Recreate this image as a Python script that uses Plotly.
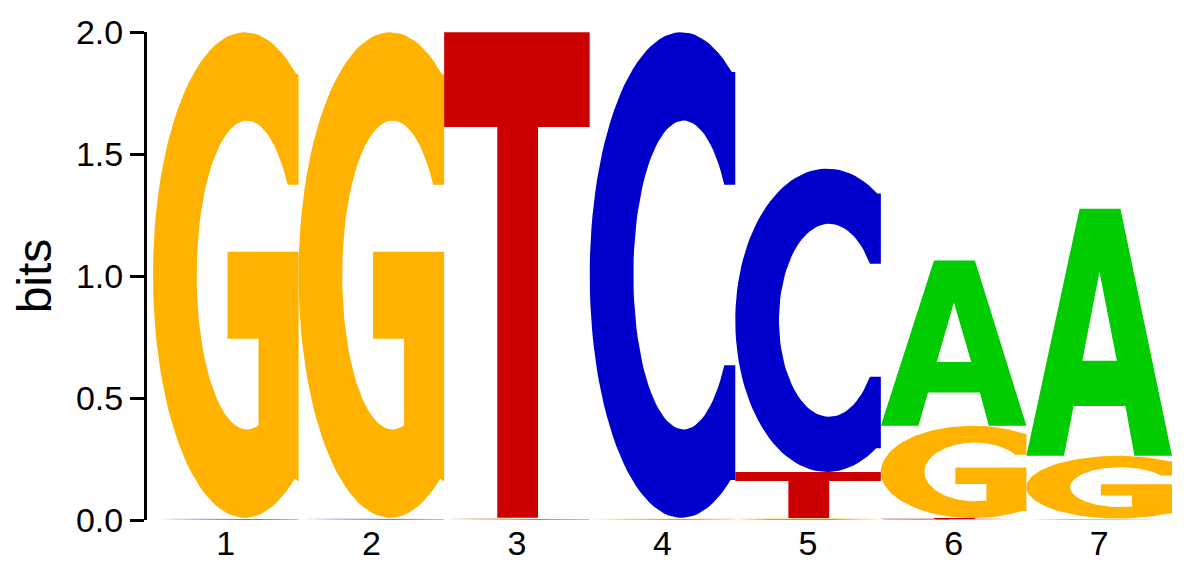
import numpy as np
import plotly.graph_objects as go

# ---- data (information content in bits per position) ----
positions = [1, 2, 3, 4, 5, 6, 7]
tick_labels = ["1", "2", "3", "4", "5", "6", "7"]
bits_A = [0.003, 0.003, 0.003, 0.003, 0.004, 0.678, 1.013]
bits_C = [0.003, 0.003, 0.003, 1.990, 1.243, 0.004, 0.003]
bits_G = [1.990, 1.990, 0.003, 0.003, 0.004, 0.378, 0.257]
bits_T = [0.003, 0.003, 1.990, 0.003, 0.189, 0.004, 0.003]

colors = {"A": "#00CC00", "C": "#0000CC", "G": "#FFB300", "T": "#CC0000"}

# ---- glyph outlines in a unit box (style, not data) ----
def arc(cx, cy, rx, ry, a0, a1, n=80):
    t = np.radians(np.linspace(a0, a1, n))
    return list(zip(cx + rx * np.cos(t), cy + ry * np.sin(t)))

OCX, ORX = 0.63, 0.63
ICX, IRX, IRY = 0.645, 0.345, 0.318

def glyph_C():
    pts = arc(OCX, 0.5, ORX, 0.5, 56.7, 302.4)
    pts += [(1.0, 0.078), (1.0, 0.314)]
    pts += arc(ICX, 0.5, IRX, IRY, 324.2, 35.8)
    pts += [(1.0, 0.686), (1.0, 0.918)]
    return [pts]

def glyph_G():
    pts = arc(OCX, 0.5, ORX, 0.5, 56.2, 302.9)
    pts += [(1.0, 0.075), (1.0, 0.548), (0.512, 0.548), (0.512, 0.369),
            (0.725, 0.369), (0.725, 0.19)]
    pts += arc(ICX, 0.5, IRX, IRY, 283.4, 35.8)
    pts += [(1.0, 0.686), (1.0, 0.912)]
    return [pts]

def glyph_T():
    return [[(0, 1), (1, 1), (1, 0.805), (0.645, 0.805), (0.645, 0),
             (0.365, 0), (0.365, 0.805), (0, 0.805)]]

def glyph_A():
    outer = [(0, 0), (0.365, 1), (0.646, 1), (1, 0), (0.742, 0),
             (0.68, 0.202), (0.324, 0.202), (0.258, 0)]
    hole = [(0.384, 0.385), (0.621, 0.385), (0.502, 0.745)]
    return [outer, hole]

glyphs = {"A": glyph_A(), "C": glyph_C(), "G": glyph_G(), "T": glyph_T()}

fig = go.Figure()
data = {"A": bits_A, "C": bits_C, "G": bits_G, "T": bits_T}
for i, pos in enumerate(positions):
    stack = sorted(((data[L][i], L) for L in "ACGT"), key=lambda t: t[0])
    base = 0.0
    for h, L in stack:
        xs, ys = [], []
        for poly in glyphs[L]:
            for (u, v) in poly:
                xs.append(pos - 0.5 + u)
                ys.append(base + v * h)
            xs.append(pos - 0.5 + poly[0][0])
            ys.append(base + poly[0][1] * h)
            xs.append(None)
            ys.append(None)
        fig.add_trace(go.Scatter(x=xs, y=ys, mode="lines", fill="toself",
                                 fillcolor=colors[L], line=dict(width=0, color=colors[L]),
                                 hoverinfo="skip", showlegend=False))
        base += h

fig.update_layout(
    width=1178, height=557,
    margin=dict(l=138.5, r=13.3, t=24, b=45, autoexpand=False),
    plot_bgcolor="white", paper_bgcolor="white",
    font=dict(family="Liberation Sans, Arial, sans-serif", color="black"),
)
fig.update_xaxes(range=[0.4588, 7.507], tickvals=positions, ticktext=tick_labels,
                 showgrid=False, zeroline=False, showline=False, ticks="",
                 tickfont=dict(size=34), fixedrange=True, automargin=False)
fig.update_yaxes(range=[0, 2], tickvals=[0, 0.5, 1.0, 1.5, 2.0], tickformat=".1f",
                 showgrid=False, zeroline=False, showline=True, linecolor="black",
                 linewidth=3, ticks="outside", ticklen=14, tickwidth=3, tickcolor="black",
                 tickfont=dict(size=34), automargin=False,
                 title=dict(text="bits", font=dict(size=48), standoff=14), fixedrange=True)

fig.write_html("out.html")
